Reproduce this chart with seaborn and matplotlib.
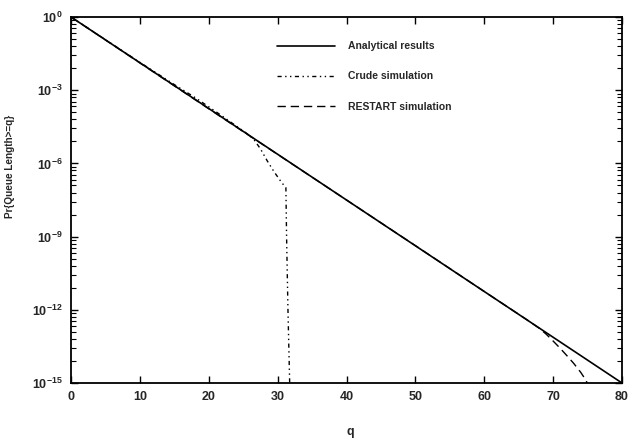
import matplotlib
matplotlib.use("Agg")
import matplotlib.pyplot as plt
import matplotlib.ticker as mticker
import numpy as np
import pandas as pd
import seaborn as sns

# ---- data ----
analytic_q = [0, 10, 20, 30, 40, 50, 60, 70, 80]
analytic_log = [0.0, -1.875, -3.75, -5.625, -7.5, -9.375, -11.25, -13.125, -15.0]

crude_q = [0, 5, 10, 15, 18, 20, 22, 24, 25.5, 26.5, 27.5, 28.5, 29.5, 30.5, 31.2, 31.3, 31.5, 31.8]
crude_log = [0.0, -0.93, -1.86, -2.77, -3.30, -3.68, -4.07, -4.47, -4.77, -5.0, -5.4, -5.9,
             -6.35, -6.75, -7.0, -9.0, -12.0, -15.6]

restart_q = [0, 10, 20, 30, 40, 50, 60, 66, 68, 69, 70, 71, 72, 73, 74, 74.8, 75.4]
restart_log = [0.0, -1.88, -3.76, -5.63, -7.50, -9.37, -11.25, -12.37, -12.76, -13.0, -13.28,
               -13.57, -13.88, -14.2, -14.56, -14.9, -15.4]

series_labels = ["Analytical results", "Crude simulation", "RESTART simulation"]
x_ticks = [0, 10, 20, 30, 40, 50, 60, 70, 80]
y_tick_exps = [0, -3, -6, -9, -12, -15]

sns.set_style("ticks")
plt.rcParams["font.family"] = ["Liberation Sans Narrow", "Liberation Sans", "DejaVu Sans"]
plt.rcParams["font.weight"] = "bold"
plt.rcParams["mathtext.fontset"] = "custom"
plt.rcParams["mathtext.bf"] = "Liberation Sans:bold"
plt.rcParams["mathtext.rm"] = "Liberation Sans:bold"

fig = plt.figure(figsize=(6.32, 4.41), dpi=100)
ax = fig.add_axes([71 / 632, 1 - 383 / 441, 551 / 632, 366 / 441])

df_a = pd.DataFrame({"q": analytic_q, "p": np.power(10.0, analytic_log)})
df_c = pd.DataFrame({"q": crude_q, "p": np.power(10.0, crude_log)})
df_r = pd.DataFrame({"q": restart_q, "p": np.power(10.0, restart_log)})

sns.lineplot(data=df_r, x="q", y="p", ax=ax, color="black", lw=1.0,
             linestyle=(0, (6, 3.5)), estimator=None, sort=False, label=series_labels[2])
sns.lineplot(data=df_c, x="q", y="p", ax=ax, color="black", lw=1.0,
             linestyle=(0, (3, 2.5, 1, 2.5, 1, 2.5)), estimator=None, sort=False,
             label=series_labels[1])
sns.lineplot(data=df_a, x="q", y="p", ax=ax, color="black", lw=1.2,
             estimator=None, sort=False, label=series_labels[0])

ax.set_yscale("log")
ax.set_xlim(0, 80)
ax.set_ylim(1e-15, 1)

ax.set_xticks(x_ticks)
ax.set_xticklabels([str(v) for v in x_ticks])
ax.xaxis.set_minor_locator(mticker.NullLocator())

ax.yaxis.set_major_locator(mticker.FixedLocator([10.0 ** e for e in y_tick_exps]))
ax.yaxis.set_major_formatter(mticker.FixedFormatter(
    [r"$\mathbf{10^{%d}}$" % e for e in y_tick_exps]))
minor = []
for e in y_tick_exps[1:]:
    for k in range(2, 10):
        minor.append(10.0 ** (e + 3 * np.log10(k)))
ax.yaxis.set_minor_locator(mticker.FixedLocator(minor))
ax.yaxis.set_minor_formatter(mticker.NullFormatter())

ax.tick_params(which="both", direction="in", top=True, right=True, color="black")
ax.tick_params(which="major", length=5, width=1.0, labelsize=9, pad=6)
ax.tick_params(which="minor", length=3.5, width=0.8)
for s in ax.spines.values():
    s.set_linewidth(1.3)
    s.set_color("black")

ax.set_xlabel("q", fontsize=9, fontweight="bold")
ax.xaxis.set_label_coords(279 / 551, -43 / 366)
ax.set_ylabel("Pr{Queue Length>=q}", fontsize=7.2, fontweight="bold")
ax.yaxis.set_label_coords(-56 / 551, 0.593)

handles, labels = ax.get_legend_handles_labels()
order = [labels.index(l) for l in series_labels]
leg = ax.legend([handles[i] for i in order], [labels[i] for i in order],
                loc="upper left", bbox_to_anchor=(206 / 551, 0.934), frameon=False,
                borderpad=0, borderaxespad=0, handlelength=5.6, handletextpad=1.2,
                labelspacing=1.95, prop={"size": 7.5, "weight": "bold"})

fig.savefig("out.png", dpi=100)
